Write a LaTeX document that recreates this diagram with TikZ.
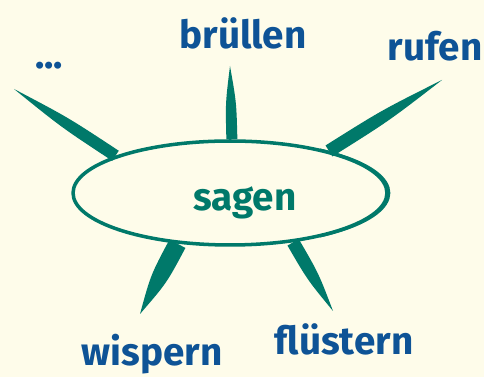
\documentclass[tikz,border=0pt]{standalone}
\usepackage{fontspec}
\setmainfont{Fira Sans}
\usetikzlibrary{calc, shapes.geometric}
\definecolor{sagteal}{HTML}{00796A}
\definecolor{wortblau}{HTML}{0E5396}
\definecolor{papier}{HTML}{FEFCEA}

\begin{document}
\begin{tikzpicture}[x=0.02cm, y=-0.02cm]
	% --- Stile ---
	\tikzset{
		word/.style={text=wortblau, inner sep=0pt, font=\bfseries\fontsize{22}{26}\selectfont},
		ring/.style={ellipse, draw=sagteal, line width=2pt, minimum width=6.28cm, minimum height=2.08cm, inner sep=0pt},
		spike/.style={fill=sagteal, draw=none}
	}
	
	% --- Hintergrund ---
	\fill[papier] (0,0) rectangle (484,377);
	\useasboundingbox (0,0) rectangle (484,377);
	
	% --- Ellipse ---
	\node[ring] (kreis) at (230,193) {};
	\begin{scope}
		\clip (320,100) rectangle (420,260);
		\node[ring, line width=1.6pt] at (232,193) {};
	\end{scope}
	\node[word, text=sagteal] (sagen) at (245,203) {sagen};
	
	% --- Woerter ---
	\node[word] (dots) at (49,66) {...};
	\node[word] (bruellen) at (243,33) {brüllen};
	\node[word] (rufen) at (435,46) {rufen};
	\node[word] (wispern) at (152,354) {wispern};
	\node[word] (fluestern) at (344,339) {flüstern};
	
	% --- Spitzen ---
	\coordinate (t-dots) at (14,89);
	\coordinate (t-bruellen) at (230,66);
	\coordinate (t-rufen) at (442,80);
	\coordinate (t-wispern) at (140,314);
	\coordinate (t-fluestern) at (333,311);
	
	\foreach \ang/\t/\w in {162/t-dots/0.12cm, 88/t-bruellen/0.11cm, 23/t-rufen/0.13cm, 224/t-wispern/0.18cm, 322/t-fluestern/0.13cm}
		\fill[spike] ($(kreis.\ang)!\w!90:(\t)$)
			.. controls ($(kreis.\ang)!0.5!(\t)!\w!90:(\t)$) .. (\t)
			.. controls ($(kreis.\ang)!0.5!(\t)!\w!-90:(\t)$) .. ($(kreis.\ang)!\w!-90:(\t)$) -- cycle;
\end{tikzpicture}
\end{document}
